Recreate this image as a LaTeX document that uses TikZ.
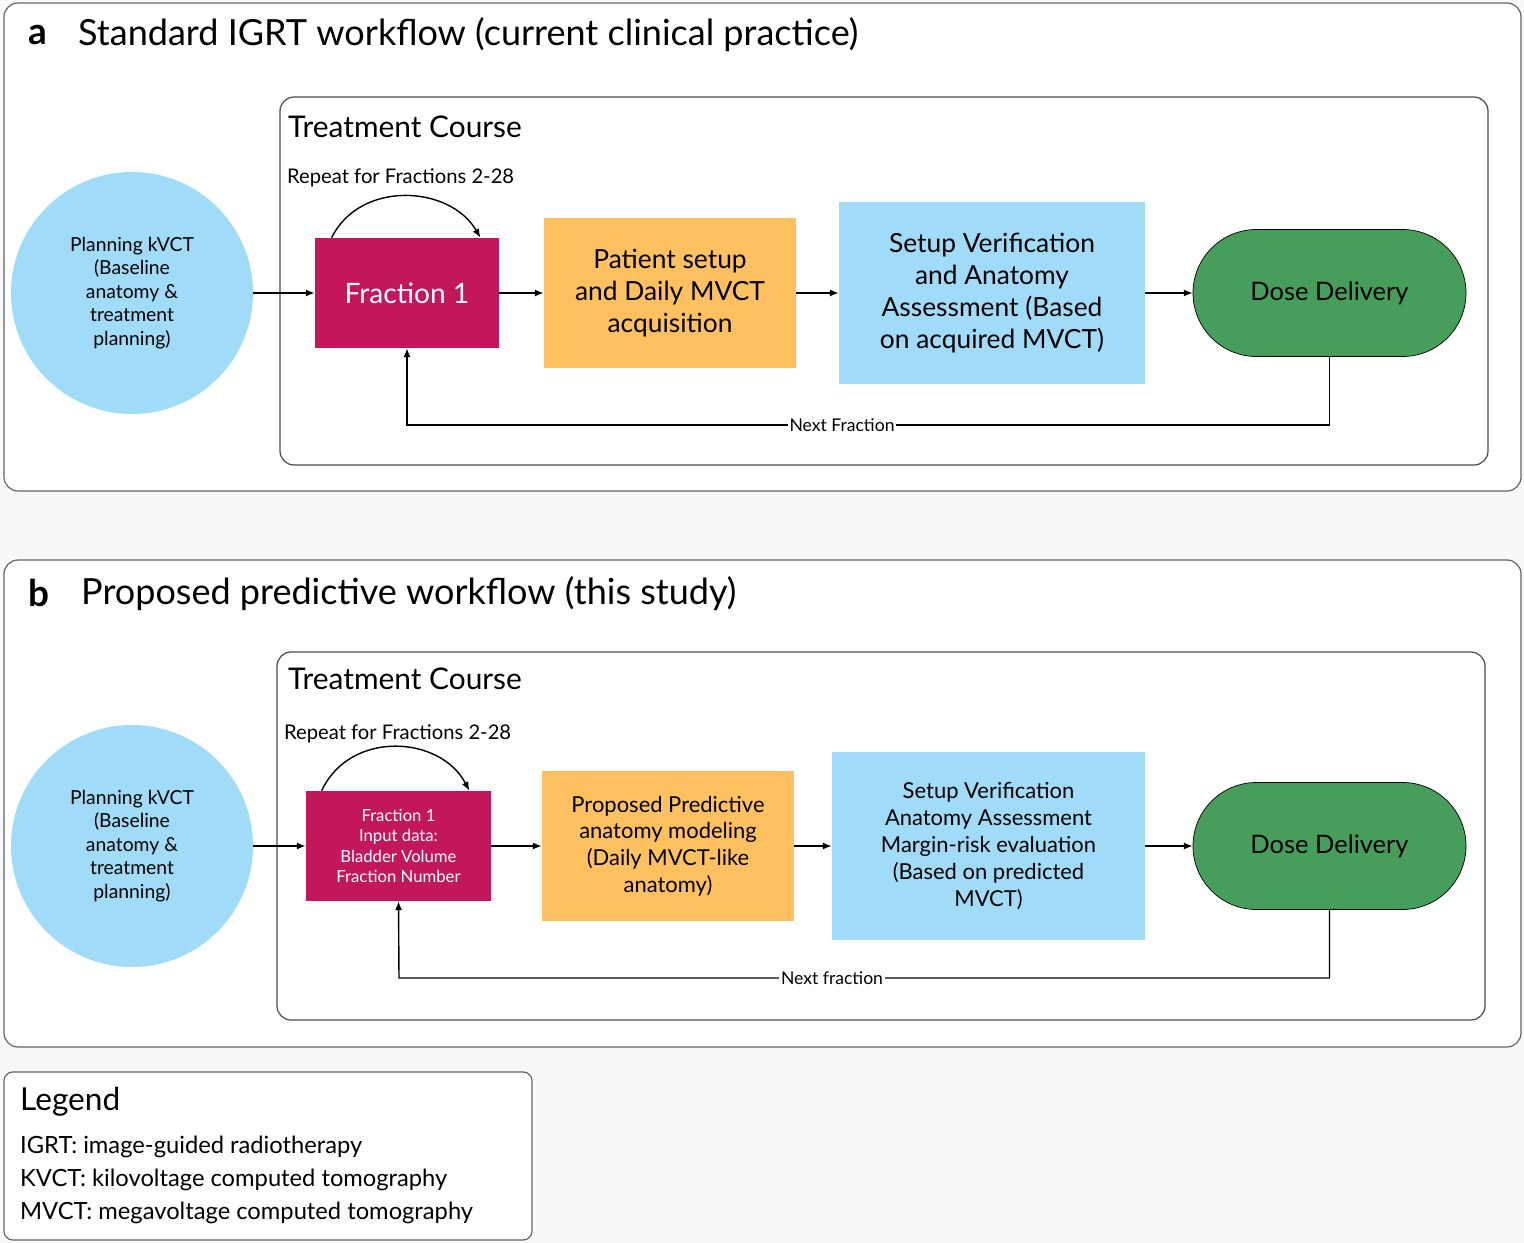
\documentclass[tikz,border=0pt]{standalone}
\usepackage{fontspec}
\setmainfont{Lato}
\usetikzlibrary{arrows.meta,shapes.misc}
\definecolor{bg}{HTML}{F8F8F8}
\definecolor{frac}{HTML}{C2185B}
\definecolor{orng}{HTML}{FFC060}
\definecolor{sky}{HTML}{A0DCF8}
\definecolor{grn}{HTML}{469E5A}
\newcommand{\fsz}[1]{\fontsize{#1}{1.22\dimexpr#1\relax}\selectfont}
\begin{document}
\begin{tikzpicture}[x=0.02cm,y=-0.02cm,
  panel/.style={draw=black!60,fill=white,rounded corners=8pt,line width=0.7pt},
  inner/.style={draw=black!70,rounded corners=8pt,line width=0.7pt},
  circ/.style={circle,fill=sky,minimum size=242*0.02cm,align=center,inner sep=0pt,font=\fsz{11pt}},
  fracbox/.style={fill=frac,text=white,align=center,inner sep=0pt},
  obox/.style={fill=orng,align=center,inner sep=0pt},
  bbox/.style={fill=sky,align=center,inner sep=0pt},
  dose/.style={rounded rectangle,draw=black,fill=grn,align=center,inner sep=0pt,font=\fsz{14.5pt}},
  arr/.style={-{Latex[length=5pt,width=4pt]},line width=0.8pt},
  lbl/.style={fill=white,inner sep=1pt,font=\fsz{10pt}}]
\fill[bg] (0,0) rectangle (1524,1243);
\useasboundingbox (0,0) rectangle (1524,1243);
% panels
\draw[panel] (4,3) rectangle (1521,491);
\draw[panel] (4,560) rectangle (1521,1047);
\draw[panel,rounded corners=5pt] (4,1072) rectangle (532,1240);
\draw[inner] (280,97) rectangle (1488,465);
\draw[inner] (277,652) rectangle (1485,1020);
% titles
\node[anchor=west,font=\fsz{21pt}\bfseries] (ta) at (22,35) {a};
\node[anchor=west,font=\fsz{20.5pt}] (tat) at (72,35) {Standard IGRT workflow (current clinical practice)};
\node[anchor=west,font=\fsz{21pt}\bfseries] (tb) at (22,593) {b};
\node[anchor=west,font=\fsz{20.5pt}] (tbt) at (75,594) {Proposed predictive workflow (this study)};
\node[anchor=west,font=\fsz{17pt}] (tca) at (282,127) {Treatment Course};
\node[anchor=west,font=\fsz{17pt}] (tcb) at (282,679) {Treatment Course};
\node[anchor=west,font=\fsz{11.5pt}] (ra) at (281,178) {Repeat for Fractions 2-28};
\node[anchor=west,font=\fsz{11.5pt}] (rb) at (278,734) {Repeat for Fractions 2-28};
% legend
\node[anchor=west,font=\fsz{18pt}] (lg) at (14,1102) {Legend};
\node[anchor=west,font=\fsz{13.5pt}] (l1) at (14,1147) {IGRT: image-guided radiotherapy};
\node[anchor=west,font=\fsz{13.5pt}] (l2) at (14,1180) {KVCT: kilovoltage computed tomography};
\node[anchor=west,font=\fsz{13.5pt}] (l3) at (14,1213) {MVCT: megavoltage computed tomography};
% row a
\node[circ] (ca) at (132,293) {Planning kVCT\\(Baseline\\anatomy \&\\treatment\\planning)};
\node[fracbox,minimum width=184*0.02cm,minimum height=110*0.02cm,font=\fsz{16pt}] (fa) at (407,293) {Fraction 1};
\node[obox,minimum width=252*0.02cm,minimum height=150*0.02cm,font=\fsz{15pt}] (oa) at (670,293) {Patient setup\\and Daily MVCT\\acquisition};
\node[bbox,minimum width=306*0.02cm,minimum height=182*0.02cm,font=\fsz{15pt}] (ba) at (992,293) {Setup Verification\\and Anatomy\\Assessment (Based\\on acquired MVCT)};
\node[dose,minimum width=273*0.02cm,minimum height=127*0.02cm] (da) at (1329.5,293) {Dose Delivery};
\draw[arr] (ca) -- (fa);
\draw[arr] (fa) -- (oa);
\draw[arr] (oa) -- (ba);
\draw[arr] (ba) -- (da);
\draw[arr] (fa.north west)++(17,0) coordinate (la1) .. controls (360,180) and (450,185) .. ([xshift=-19*0.02cm]fa.north east);
\draw[arr] (da.south) |- (1000,425) -- (407,425) -- (fa.south);
\node[lbl] (na) at (842,425) {Next Fraction};
% row b
\node[circ] (cb) at (132,846) {Planning kVCT\\(Baseline\\anatomy \&\\treatment\\planning)};
\node[fracbox,minimum width=185*0.02cm,minimum height=110*0.02cm,font=\fsz{9.5pt}] (fb) at (398.5,846) {Fraction 1\\Input data:\\Bladder Volume\\Fraction Number};
\node[obox,minimum width=252*0.02cm,minimum height=150*0.02cm,font=\fsz{12.5pt}] (ob) at (668,846) {Proposed Predictive\\anatomy modeling\\(Daily MVCT-like\\anatomy)};
\node[bbox,minimum width=313*0.02cm,minimum height=188*0.02cm,font=\fsz{12.5pt}] (bb) at (988.5,846) {Setup Verification\\Anatomy Assessment\\Margin-risk evaluation\\(Based on predicted\\MVCT)};
\node[dose,minimum width=273*0.02cm,minimum height=127*0.02cm] (db) at (1329.5,846) {Dose Delivery};
\draw[arr] (cb) -- (fb);
\draw[arr] (fb) -- (ob);
\draw[arr] (ob) -- (bb);
\draw[arr] (bb) -- (db);
\draw[arr] ([xshift=16*0.02cm]fb.north west) .. controls (350,730) and (440,735) .. ([xshift=-22*0.02cm]fb.north east);
\draw[arr] (db.south) |- (1000,978) -- (399,978) -- (fb.south);
\node[lbl] (nb) at (832,978) {Next fraction};
\end{tikzpicture}
\end{document}
